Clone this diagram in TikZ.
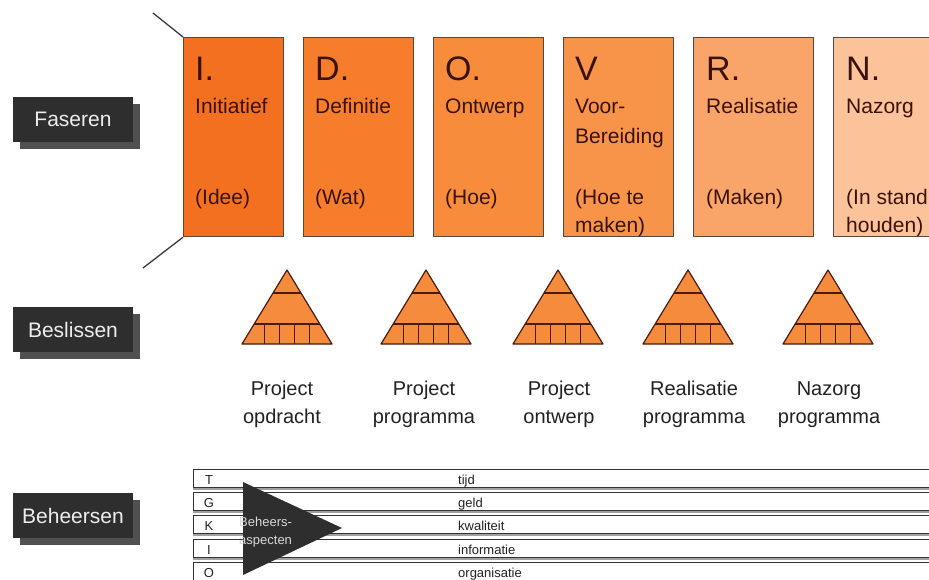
\documentclass[tikz,border=0pt]{standalone}
\usepackage{fontspec}
\setmainfont{Liberation Sans}
\usetikzlibrary{shadows}
\definecolor{cI}{HTML}{F37021}
\definecolor{cD}{HTML}{F57D2C}
\definecolor{cO}{HTML}{F68C3C}
\definecolor{cV}{HTML}{F79449}
\definecolor{cR}{HTML}{F9A468}
\definecolor{cN}{HTML}{FCC39A}
\definecolor{boxtxt}{HTML}{3A1208}
\definecolor{boxline}{HTML}{5A463C}
\definecolor{tri}{HTML}{F58B3D}
\definecolor{triline}{HTML}{4A1A0C}
\definecolor{labdark}{HTML}{2E2E2E}
\definecolor{labshadow}{HTML}{505050}
\definecolor{labtext}{HTML}{EDEDED}
\definecolor{rowline}{HTML}{333333}
\definecolor{rowgray}{HTML}{A0A0A0}
\definecolor{funnelc}{HTML}{3A3A3A}
\definecolor{dectxt}{HTML}{222222}
\definecolor{rowtxt}{HTML}{222222}
\definecolor{arrtxt}{HTML}{D8D8D8}
\tikzset{
  phasebox/.style={draw=boxline, line width=1.2pt, minimum height=199pt, inner sep=0pt, anchor=north west},
  bigl/.style={anchor=base west, inner sep=0pt, text=boxtxt, font=\fontsize{34}{34}\selectfont},
  phtxt/.style={anchor=base west, inner sep=0pt, text=boxtxt, font=\fontsize{21}{21}\selectfont},
  sidelabel/.style={fill=labdark, text=labtext, minimum width=120pt, minimum height=45pt, inner sep=0pt,
    font=\fontsize{21}{21}\selectfont,
    drop shadow={shadow xshift=7pt, shadow yshift=-7pt, fill=labshadow, opacity=1}},
  pyr/.style={fill=tri, draw=triline, line width=1.2pt, line join=round},
  pyrline/.style={draw=triline, line width=1.2pt},
  declab/.style={anchor=base, inner sep=0pt, text=dectxt, font=\fontsize{20}{20}\selectfont},
  funnel/.style={draw=funnelc, line width=1.3pt},
  rowbox/.style={draw=rowline, fill=white, line width=1pt},
  rowshadow/.style={fill=rowgray},
  rowletter/.style={anchor=base, inner sep=0pt, text=rowtxt, font=\fontsize{13}{13}\selectfont},
  rowtext/.style={anchor=base west, inner sep=0pt, text=rowtxt, font=\fontsize{13}{13}\selectfont},
  arrowtxt/.style={anchor=base west, inner sep=0pt, text=arrtxt, font=\fontsize{13}{13}\selectfont},
}
\newcommand\pyramid[1]{%
  \filldraw[pyr] (#1,270) -- (#1+45,344) -- (#1-45,344) -- cycle;
  \draw[pyrline] (#1-14,293) -- (#1+14,293);
  \draw[pyrline] (#1-32.8,324) -- (#1+32.8,324);
  \foreach \dd in {-22.5,-7.5,7.5,22.5} \draw[pyrline] (#1+\dd,324) -- (#1+\dd,344);
}
\begin{document}
\begin{tikzpicture}[x=1pt,y=-1pt]
\useasboundingbox (0,0) rectangle (929,579);
\clip (0,0) rectangle (929,579);
\fill[white] (0,0) rectangle (929,579);

% side labels
\node[sidelabel] (faseren) at (73,119.5) {Faseren};
\node[sidelabel] (beslissen) at (73,329.5) {Beslissen};
\node[sidelabel] (beheersen) at (73,515.5) {Beheersen};

% phase boxes
\node[phasebox, fill=cI, minimum width=100pt] (pI) at (183,37) {};
\node[phasebox, fill=cD, minimum width=110pt] (pD) at (303,37) {};
\node[phasebox, fill=cO, minimum width=110pt] (pO) at (433,37) {};
\node[phasebox, fill=cV, minimum width=110pt] (pV) at (563,37) {};
\node[phasebox, fill=cR, minimum width=120pt] (pR) at (693,37) {};
\node[phasebox, fill=cN, minimum width=120pt] (pN) at (833,37) {};

\node[bigl] (pIa) at (195,80) {I.};
\node[phtxt] (pIb) at (195,113) {Initiatief};
\node[phtxt] (pIc) at (195,204) {(Idee)};

\node[bigl] (pDa) at (315,80) {D.};
\node[phtxt] (pDb) at (315,113) {Definitie};
\node[phtxt] (pDc) at (315,204) {(Wat)};

\node[bigl] (pOa) at (445,80) {O.};
\node[phtxt] (pOb) at (445,113) {Ontwerp};
\node[phtxt] (pOc) at (445,204) {(Hoe)};

\node[bigl] (pVa) at (575,80) {V};
\node[phtxt] (pVb) at (575,113) {Voor-};
\node[phtxt] (pVc) at (575,143) {Bereiding};
\node[phtxt] (pVd) at (575,204) {(Hoe te};
\node[phtxt] (pVe) at (575,232) {maken)};

\node[bigl] (pRa) at (706,80) {R.};
\node[phtxt] (pRb) at (706,113) {Realisatie};
\node[phtxt] (pRc) at (706,204) {(Maken)};

\node[bigl] (pNa) at (846,80) {N.};
\node[phtxt] (pNb) at (846,113) {Nazorg};
\node[phtxt] (pNc) at (846,204) {(In stand};
\node[phtxt] (pNd) at (846,232) {houden)};

% funnel lines
\coordinate (f1) at (153,13);
\coordinate (f2) at (143,268);
\draw[funnel] (f1) -- (pI.north west);
\draw[funnel] (pI.south west) -- (f2);

% pyramids
\pyramid{287}
\pyramid{426}
\pyramid{558}
\pyramid{688}
\pyramid{828}

\node[declab] (d1a) at (282,395) {Project};
\node[declab] (d1b) at (282,423) {opdracht};
\node[declab] (d2a) at (424,395) {Project};
\node[declab] (d2b) at (424,423) {programma};
\node[declab] (d3a) at (559,395) {Project};
\node[declab] (d3b) at (559,423) {ontwerp};
\node[declab] (d4a) at (694,395) {Realisatie};
\node[declab] (d4b) at (694,423) {programma};
\node[declab] (d5a) at (829,395) {Nazorg};
\node[declab] (d5b) at (829,423) {programma};

% control rows
\foreach \t/\l/\w [count=\i] in {469/T/tijd, 492/G/geld, 515/K/kwaliteit, 539/I/informatie, 562/O/organisatie}{
  \fill[rowshadow] (193,\t+18) rectangle (945,\t+21);
  \draw[rowbox] (193,\t) rectangle (945,\t+18);
  \node[rowletter] (rl\i) at (209,\t+15) {\l};
  \node[rowtext] (rt\i) at (458,\t+15) {\w};
}

% big arrow triangle
\fill[labdark] (243,482) -- (342,528) -- (243,575) -- cycle;
\node[arrowtxt] (ba1) at (239,526) {Beheers-};
\node[arrowtxt] (ba2) at (239,544) {aspecten};
\end{tikzpicture}
\end{document}
